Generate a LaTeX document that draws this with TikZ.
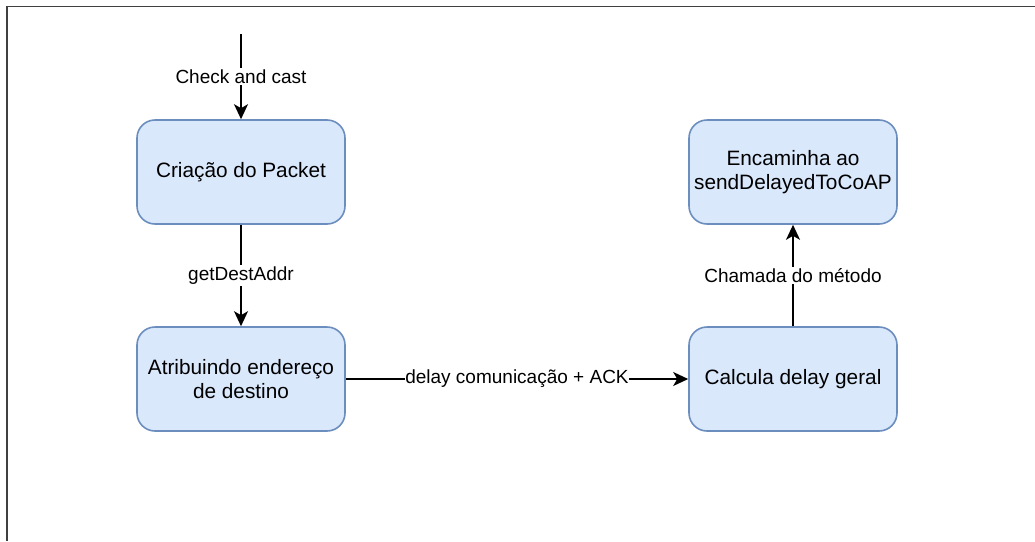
\documentclass[tikz,border=0pt]{standalone}
\usepackage{fontspec}
\setmainfont{Liberation Sans}
\usetikzlibrary{arrows.meta}
\definecolor{boxfill}{HTML}{DAE8FC}
\definecolor{boxline}{HTML}{6C8EBF}
\begin{document}
\begin{tikzpicture}[x=1pt,y=-1pt,
  stepbox/.style={draw=boxline,fill=boxfill,line width=1.6pt,rounded corners=18pt,
    minimum width=208pt,minimum height=104pt,align=center,inner sep=0pt,
    font=\fontsize{20.8}{24}\selectfont},
  flow/.style={line width=1.7pt,-{Stealth[length=15pt,width=14pt,inset=4pt]}},
  lbl/.style={fill=white,inner sep=1.5pt,font=\fontsize{19}{22}\selectfont}]
  \useasboundingbox (0,0) rectangle (1035,541);
  % outer frame
  \draw[black!75,line width=1.8pt] (7,541) -- (7,6.5) -- (1035,6.5);
  % process steps
  \node[stepbox] (packet) at (241,172) {Criação do Packet};
  \node[stepbox] (dest) at (241,379) {Atribuindo endereço\\de destino};
  \node[stepbox] (delay) at (793,379) {Calcula delay geral};
  \node[stepbox] (coap) at (793,172) {Encaminha ao\\sendDelayedToCoAP};
  \coordinate (entry) at (241,34);
  % connectors
  \draw[flow] (entry) -- node[lbl] {Check and cast} (packet);
  \draw[flow] (packet) -- node[lbl] {getDestAddr} (dest);
  \draw[flow] (dest) -- node[lbl,inner sep=0.5pt] {delay comunicação + ACK} (delay);
  \draw[flow] (delay) -- node[lbl] {Chamada do método} (coap);
\end{tikzpicture}
\end{document}
